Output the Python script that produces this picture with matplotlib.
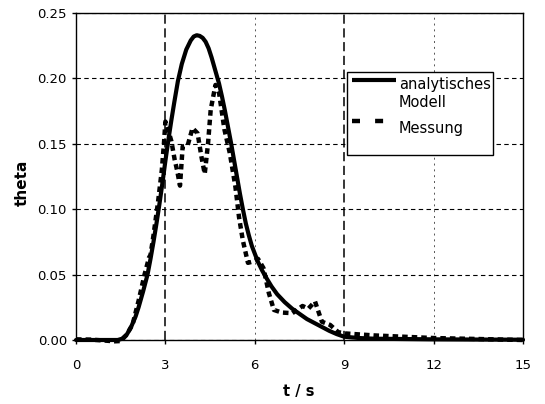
import matplotlib
matplotlib.use("Agg")
import numpy as np
import matplotlib.pyplot as plt
from matplotlib.lines import Line2D
from matplotlib.patches import Rectangle
from matplotlib.legend_handler import HandlerLine2D

plt.rcParams['font.family'] = ['DejaVu Sans']

# analytic model (solid)
t_model = [0.0, 1.0, 1.4, 1.55, 1.7, 1.85, 2.0, 2.1, 2.25, 2.4, 2.5, 2.6, 2.7, 2.8, 2.9,
           3.0, 3.1, 3.2, 3.3, 3.42, 3.55, 3.7, 3.85, 3.95, 4.05, 4.15, 4.25, 4.35, 4.45,
           4.55, 4.65, 4.8, 4.9, 5.0, 5.1, 5.2, 5.3, 5.4, 5.5, 5.6, 5.7, 5.8, 5.9, 6.0,
           6.1, 6.25, 6.4, 6.56, 6.75, 7.0, 7.25, 7.5, 7.75, 8.0, 8.25, 8.5, 8.75, 9.0,
           9.5, 10.0, 12.0, 15.0]
theta_model = [0.0, 0.0, 0.0, 0.001, 0.004, 0.010, 0.018, 0.025, 0.037, 0.050, 0.062, 0.075, 0.089, 0.104, 0.120,
               0.137, 0.153, 0.168, 0.182, 0.198, 0.211, 0.222, 0.229, 0.232, 0.233, 0.2325, 0.231, 0.228, 0.223,
               0.216, 0.208, 0.196, 0.186, 0.175, 0.163, 0.151, 0.138, 0.125, 0.112, 0.100, 0.089, 0.080, 0.072, 0.066,
               0.060, 0.053, 0.047, 0.041, 0.035, 0.029, 0.024, 0.020, 0.016, 0.013, 0.010, 0.007, 0.0045, 0.0025,
               0.0015, 0.001, 0.0005, 0.0002]

# measurement (dashed)
t_meas = [0.0, 0.5, 1.0, 1.3, 1.5, 1.7, 1.9, 2.1, 2.3, 2.45, 2.5, 2.6, 2.75, 2.88, 2.95, 3.0,
          3.1, 3.2, 3.31, 3.39, 3.49, 3.58, 3.75, 3.91, 4.08, 4.21, 4.32, 4.43, 4.52, 4.68,
          4.8, 4.98, 5.16, 5.35, 5.47, 5.6, 5.77, 5.94, 6.11, 6.29, 6.47, 6.64, 6.9, 7.26,
          7.6, 7.8, 8.02, 8.25, 8.53, 8.8, 9.04, 10.0, 11.0, 12.0, 13.0, 14.0, 15.0]
theta_meas = [0.0005, 0.0003, -0.0005, -0.001, -0.0008, 0.004, 0.012, 0.03, 0.05, 0.063, 0.065, 0.08, 0.105, 0.13, 0.15, 0.167,
              0.160, 0.152, 0.138, 0.130, 0.118, 0.148, 0.149, 0.162, 0.158, 0.140, 0.127, 0.150, 0.176, 0.195,
              0.189, 0.161, 0.143, 0.117, 0.094, 0.076, 0.059, 0.060, 0.062, 0.055, 0.036, 0.023, 0.021, 0.0205,
              0.026, 0.024, 0.0295, 0.014, 0.0115, 0.006, 0.005, 0.0035, 0.0025, 0.0015, 0.001, 0.0005, 0.0]

x_ticks = [0, 3, 6, 9, 12, 15]
y_ticks = [0.00, 0.05, 0.10, 0.15, 0.20, 0.25]
x_labels = ['0', '3', '6', '9', '12', '15']
y_labels = ['0.00', '0.05', '0.10', '0.15', '0.20', '0.25']
legend_labels = ['analytisches\nModell', 'Messung']


class ShiftedLineHandler(HandlerLine2D):
    def __init__(self, dy_pt, **kw):
        super().__init__(**kw)
        self.dy_pt = dy_pt

    def create_artists(self, legend, orig_handle, xdescent, ydescent, width, height, fontsize, trans):
        arts = super().create_artists(legend, orig_handle, xdescent, ydescent, width, height, fontsize, trans)
        for a in arts:
            if isinstance(a, Line2D):
                a.set_ydata(np.asarray(a.get_ydata(), dtype=float) + self.dy_pt)
        return arts


fig = plt.figure(figsize=(5.45, 4.04), dpi=100)
ax = fig.add_axes([76/545, 1 - 340/404, 447/545, 327/404])

ax.plot(t_model, theta_model, color='black', lw=3.0, solid_capstyle='round',
        solid_joinstyle='round', clip_on=False, zorder=3)
meas_line, = ax.plot(t_meas, theta_meas, color='black', lw=3.2, clip_on=False, zorder=3,
                     dash_capstyle='butt')
meas_line.set_dashes((1.25, 0.9))

ax.set_xlim(0, 15)
ax.set_ylim(0, 0.25)
ax.set_xticks(x_ticks)
ax.set_xticklabels(x_labels)
ax.set_yticks(y_ticks)
ax.set_yticklabels(y_labels)
ax.tick_params(axis='x', direction='out', length=3, width=1, pad=10.5, labelsize=9.5, top=False)
ax.tick_params(axis='y', direction='out', length=3, width=1, pad=3.5, labelsize=9.5, right=False)
for s in ax.spines.values():
    s.set_linewidth(1.0)
    s.set_color('black')

ax.grid(True, color='black', linewidth=0.8, zorder=1)
for gl in ax.get_ygridlines():
    gl.set_dashes((4, 3))
for val, gl in zip(x_ticks, ax.get_xgridlines()):
    if val in (3, 9):
        gl.set_linewidth(1.1)
        gl.set_dashes((6, 3))
    else:
        gl.set_linewidth(0.7)
        gl.set_color('#555555')
        gl.set_dashes((2, 4))
ax.set_axisbelow(True)

# legend box
ax.add_patch(Rectangle((0.606, 0.566), 0.327, 0.2536, transform=ax.transAxes,
                       facecolor='white', edgecolor='black', linewidth=1.0, zorder=4, clip_on=False))
h_model = Line2D([], [], color='black', lw=3.0, solid_capstyle='butt')
h_meas = Line2D([], [], color='black', lw=3.2, dash_capstyle='butt')
h_meas.set_dashes((1.8, 3.4))
leg = ax.legend([h_model, h_meas], legend_labels, loc='upper left',
                bbox_to_anchor=(0.6174, 0.803), bbox_transform=ax.transAxes,
                frameon=False, fontsize=10.5, handlelength=3.0, handletextpad=0.2,
                labelspacing=0.75, borderpad=0, borderaxespad=0,
                handler_map={h_model: ShiftedLineHandler(10.4), h_meas: ShiftedLineHandler(5.0)})
leg.set_zorder(5)

fig.text(22.5/545, 1 - 182.5/404, 'theta', rotation=90, ha='center', va='center',
         fontsize=11, fontweight='bold')
fig.text(299/545, 1 - 391.5/404, 't / s', ha='center', va='center',
         fontsize=10.5, fontweight='bold')

fig.savefig('out.png', dpi=100, facecolor='white')
